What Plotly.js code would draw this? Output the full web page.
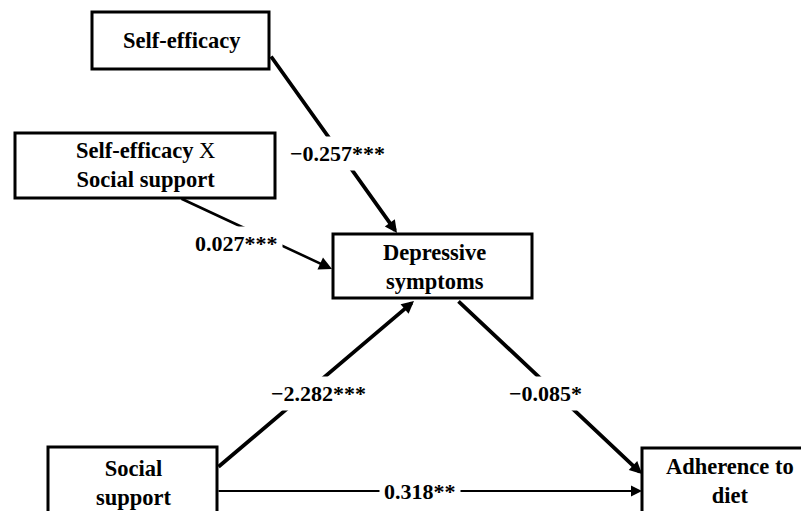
<!DOCTYPE html>
<html>
<head>
<meta charset="utf-8">
<script src="https://cdn.plot.ly/plotly-3.0.1.min.js"></script>
<style>html,body{margin:0;padding:0;background:#fff;}#chart{width:801px;height:511px;}</style>
</head>
<body>
<div id="chart"></div>
<script>
// Nodes of the moderated mediation path diagram
const nodeNames = ["Self-efficacy", "Self-efficacy X<br>Social support", "Depressive<br>symptoms", "Social<br>support", "Adherence to<br>diet"];
// Paths (from node index -> to node index) and their coefficients
const pathFrom = [0, 1, 3, 2, 3];
const pathTo   = [2, 2, 2, 4, 4];
const coefficients = ["−0.257***", "0.027***", "−2.282***", "−0.085*", "0.318**"];

// Layout geometry (pixels), kept separate from the data
const boxX0 = [92, 15, 333, 48, 642];
const boxX1 = [269, 275, 532, 217, 860];
const boxY0 = [12, 133, 234, 447, 448];
const boxY1 = [69, 198, 298, 560, 560];
const textX = [182, 145, 434, 134, 730];
const textY = [40, 165, 267, 483, 481];
const tailX = [270, 180, 217, 457, 217];
const tailY = [55, 198, 468, 300, 491];
const headX = [397, 332, 414, 642, 642];
const headY = [233, 269, 301, 474, 491];
const lblX = [337, 236, 318, 545, 420];
const lblY = [153, 243, 393, 393, 491];
const arrowW = [3.8, 2.6, 3.8, 3.8, 2.2];

const fontFam = 'Liberation Serif, Times New Roman, serif';

const shapes = nodeNames.map((n, i) => ({
  type: 'rect', xref: 'x', yref: 'y',
  x0: boxX0[i], x1: boxX1[i], y0: boxY0[i], y1: boxY1[i],
  line: {color: '#000', width: 3}, fillcolor: '#fff', layer: 'below'
}));

const annotations = [];
coefficients.forEach((c, i) => {
  annotations.push({
    x: headX[i], y: headY[i], ax: tailX[i], ay: tailY[i],
    xref: 'x', yref: 'y', axref: 'x', ayref: 'y',
    text: '', showarrow: true, arrowhead: 2,
    arrowsize: i === 4 || i === 1 ? 1.0 : 0.65,
    arrowwidth: arrowW[i], arrowcolor: '#000'
  });
});
coefficients.forEach((c, i) => {
  annotations.push({
    x: lblX[i], y: lblY[i], xref: 'x', yref: 'y',
    text: '<b>' + c + '</b>', showarrow: false,
    font: {family: fontFam, size: 22, color: '#000'},
    bgcolor: '#fff', borderpad: 4,
    xanchor: 'center', yanchor: 'middle'
  });
});
nodeNames.forEach((n, i) => {
  const t = n.replace('X<br>', '<span style="font-weight:normal">X</span><br>');
  annotations.push({
    x: textX[i], y: textY[i], xref: 'x', yref: 'y',
    text: '<b>' + t + '</b>', showarrow: false,
    font: {family: fontFam, size: 22.5, color: '#000'},
    xanchor: 'center', yanchor: 'middle', align: 'center'
  });
});

const layout = {
  width: 801, height: 511,
  font: {family: fontFam},
  margin: {l: 0, r: 0, t: 0, b: 0},
  paper_bgcolor: '#fff', plot_bgcolor: '#fff',
  xaxis: {range: [0, 801], visible: false, fixedrange: true},
  yaxis: {range: [511, 0], visible: false, fixedrange: true},
  shapes: shapes, annotations: annotations, showlegend: false
};

Plotly.newPlot('chart', [{x: [], y: [], type: 'scatter', hoverinfo: 'skip'}], layout, {staticPlot: true, displayModeBar: false});
</script>
</body>
</html>
